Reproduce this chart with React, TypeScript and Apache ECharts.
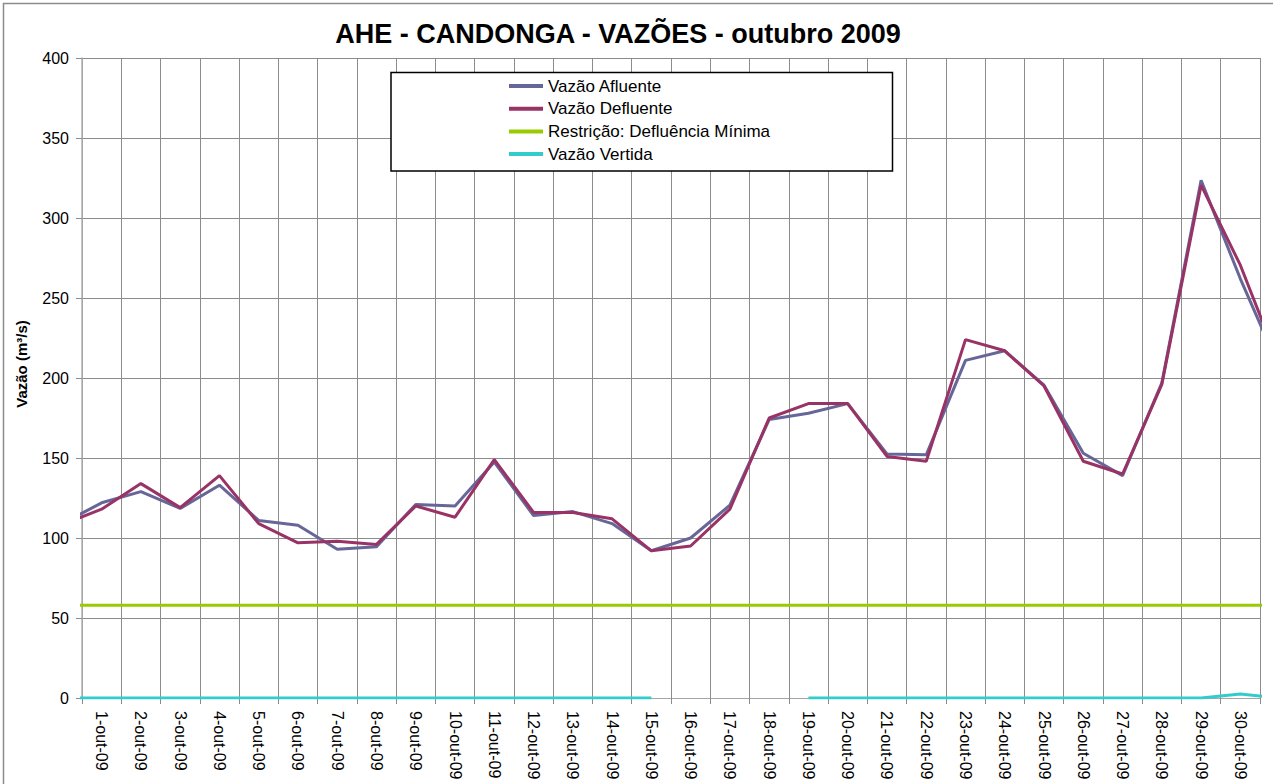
import React, { useEffect, useRef } from "react";
import * as echarts from "echarts";

const FONT = "'Liberation Sans', Arial, sans-serif";

const TITLE = "AHE - CANDONGA - VAZÕES - outubro 2009";
const Y_NAME = "Vazão (m³/s)";

const categories = [
  "1-out-09", "2-out-09", "3-out-09", "4-out-09", "5-out-09", "6-out-09",
  "7-out-09", "8-out-09", "9-out-09", "10-out-09", "11-out-09", "12-out-09",
  "13-out-09", "14-out-09", "15-out-09", "16-out-09", "17-out-09", "18-out-09",
  "19-out-09", "20-out-09", "21-out-09", "22-out-09", "23-out-09", "24-out-09",
  "25-out-09", "26-out-09", "27-out-09", "28-out-09", "29-out-09", "30-out-09",
];

// position of each value: 0 = 30-set-09, 1..31 = 1..31-out-09
const dayIndex = [
  0, 1, 2, 3, 4, 5, 6, 7, 8, 9, 10, 11, 12, 13, 14, 15,
  16, 17, 18, 19, 20, 21, 22, 23, 24, 25, 26, 27, 28, 29, 30, 31,
];

const afluente = [
  109, 122, 129, 118.5, 133, 111, 108, 93, 94.5, 121, 120, 147.5, 114, 116.5, 109, 92,
  100, 120.5, 174, 178, 184, 152.5, 152, 211, 217, 195.5, 153, 139, 197, 323.5, 262, 206,
];
const defluente = [
  108.5, 118, 134, 119, 139, 109, 97, 98, 96, 120, 113, 149, 116, 116, 112, 92,
  95, 118, 175, 184, 184, 151, 148, 224, 217, 195, 148, 140, 196, 320.5, 270.5, 208,
];
const restricao = [
  58, 58, 58, 58, 58, 58, 58, 58, 58, 58, 58, 58, 58, 58, 58, 58,
  58, 58, 58, 58, 58, 58, 58, 58, 58, 58, 58, 58, 58, 58, 58, 58,
];
const vertida = [
  0, 0, 0, 0, 0, 0, 0, 0, 0, 0, 0, 0, 0, 0, 0, 0,
  null, null, null, 0, 0, 0, 0, 0, 0, 0, 0, 0, 0, 0, 2.5, 0,
];

const seriesNames = ["Vazão Afluente", "Vazão Defluente", "Restrição: Defluência Mínima", "Vazão Vertida"];
const seriesColors = ["#666699", "#993366", "#99CC00", "#33CCCC"];

function pairs(vals: (number | null)[]) {
  return vals.map((v, i) => [dayIndex[i], v]);
}

export default function App() {
  const ref = useRef<HTMLDivElement>(null);
  useEffect(() => {
    if (!ref.current) return;
    const chart = echarts.init(ref.current, null, { renderer: "svg" });
    const values = [afluente, defluente, restricao, vertida];
    chart.setOption({
      animation: false,
      backgroundColor: "#ffffff",
      textStyle: { fontFamily: FONT },
      grid: { left: 82, top: 58, right: 13, bottom: 86, containLabel: false },
      xAxis: [
        {
          type: "category",
          data: categories,
          boundaryGap: true,
          axisLine: { show: true, lineStyle: { color: "#a6a6a6", width: 1 } },
          axisTick: { show: true, length: 6, lineStyle: { color: "#8c8c8c" } },
          axisLabel: { rotate: -90, margin: 13, fontSize: 16, color: "#000", interval: 0, fontFamily: FONT },
          splitLine: { show: true, lineStyle: { color: "#8c8c8c", width: 1 } },
        },
        { type: "value", min: 0.5, max: 30.5, show: false, splitLine: { show: false } },
      ],
      yAxis: {
        type: "value",
        min: 0,
        max: 400,
        interval: 50,
        axisLine: { show: true, lineStyle: { color: "#b0b0b0", width: 1.5 } },
        axisTick: { show: true, length: 6, lineStyle: { color: "#8c8c8c" } },
        axisLabel: { margin: 13, fontSize: 16, color: "#000", fontFamily: FONT },
        splitLine: { show: true, lineStyle: { color: "#8c8c8c", width: 1 } },
      },
      legend: {
        orient: "vertical",
        left: 509,
        top: 76,
        itemWidth: 34,
        itemHeight: 4,
        itemGap: 2.7,
        icon: "rect",
        padding: 0,
        selectedMode: false,
        z: 10,
        textStyle: { fontSize: 17, color: "#000", lineHeight: 20, fontFamily: FONT },
        data: seriesNames,
      },
      series: seriesNames.map((name, i) => ({
        name,
        type: "line",
        xAxisIndex: 1,
        data: pairs(values[i]),
        color: seriesColors[i],
        itemStyle: { color: seriesColors[i] },
        lineStyle: { width: 3, color: seriesColors[i] },
        symbol: "none",
        showSymbol: false,
        connectNulls: false,
        z: 2 + (i === 1 ? 1 : 0),
      })),
      graphic: [
        {
          type: "rect",
          silent: true,
          z: 0,
          shape: { x: 3.5, y: 3.5, width: 1400, height: 900 },
          style: { fill: "none", stroke: "#8c8c8c", lineWidth: 1.5 },
        },
        {
          type: "rect",
          silent: true,
          z: 5,
          shape: { x: 391, y: 72.5, width: 501.5, height: 98.5 },
          style: { fill: "#ffffff", stroke: "#000000", lineWidth: 1.5 },
        },
        {
          type: "text",
          z: 5,
          x: 618,
          y: 34,
          style: {
            text: TITLE,
            font: `bold 27px ${FONT}`,
            fill: "#000",
            align: "center",
            verticalAlign: "middle",
          },
        },
        {
          type: "text",
          z: 5,
          x: 21.5,
          y: 364,
          rotation: Math.PI / 2,
          style: {
            text: Y_NAME,
            font: `bold 15px ${FONT}`,
            fill: "#000",
            align: "center",
            verticalAlign: "middle",
          },
        },
      ],
    });
    return () => chart.dispose();
  }, []);
  return (
    <div
      ref={ref}
      style={{ position: "absolute", left: 0, top: 0, width: 1273, height: 784 }}
    />
  );
}
